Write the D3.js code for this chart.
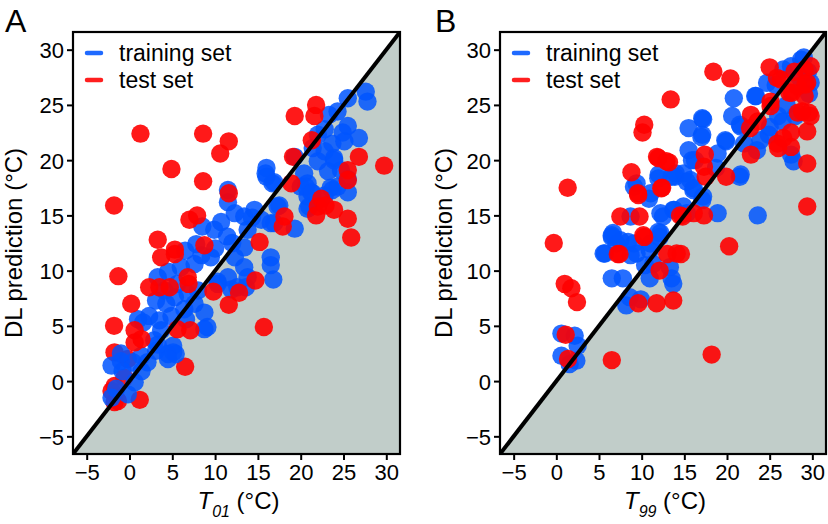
<!DOCTYPE html>
<html><head><meta charset="utf-8">
<script src="https://cdn.jsdelivr.net/npm/d3@7/dist/d3.min.js"></script>
<style>body{margin:0;background:#fff}svg{display:block;font-family:"Liberation Sans",Arial,sans-serif}</style>
</head><body><svg id="c" width="828" height="524"></svg>
<script>
const ticks = [-5, 0, 5, 10, 15, 20, 25, 30];
const domain = [-6.6, 31.6];
const seriesNames = ["training set", "test set"];
const panelLetters = ["A", "B"];
const xSubs = ["01", "99"];

const trainA = [[25.5,25.6],[27.6,26.2],[27.8,25.3],[24.3,24.4],[23.3,24.1],[25.5,23.1],[24.9,22.5],[26.8,22.0],[22.8,22.8],[22.0,22.3],[23.7,21.5],[25.1,21.7],[21.4,21.1],[22.8,20.8],[22.0,19.9],[23.9,20.2],[24.7,19.1],[23.2,19.0],[20.4,18.8],[20.8,17.9],[20.0,17.6],[21.2,17.1],[23.5,17.5],[25.5,17.1],[24.3,17.6],[16.0,19.3],[16.0,18.5],[16.7,17.9],[19.3,20.3],[20.8,16.7],[22.8,16.8],[14.6,15.5],[13.4,14.9],[15.4,14.6],[16.9,14.3],[17.5,15.9],[19.3,13.8],[20.8,15.6],[13.8,13.7],[13.4,12.1],[16.5,11.2],[25.5,18.3],[23.9,20.0],[21.0,15.8],[12.3,15.2],[10.7,14.4],[9.9,13.7],[11.4,13.1],[11.5,17.3],[11.5,16.2],[16.5,10.5],[16.8,9.2],[-2.1,-1.5],[-1.55,-0.7],[-0.2,-1.2],[-2.1,1.4],[-1.0,1.8],[0.4,1.7],[1.4,2.3],[-1.0,2.5],[2.1,1.7],[3.1,2.75],[2.9,3.7],[4.5,2.45],[5.1,3.2],[5.4,2.45],[3.7,4.6],[1.6,5.3],[1.0,5.6],[2.3,5.9],[3.5,5.5],[4.9,5.9],[6.4,6.5],[7.6,7.0],[8.75,6.2],[9.1,4.9],[6.6,5.6],[4.3,7.0],[3.1,7.3],[5.3,7.6],[6.8,7.9],[8.0,8.2],[4.1,8.2],[3.3,9.4],[4.5,9.9],[6.0,10.3],[7.6,10.6],[8.4,11.4],[9.5,11.2],[10.3,9.0],[11.5,9.4],[12.6,8.5],[13.8,9.4],[13.4,10.3],[12.3,11.2],[5.6,8.8],[0.6,-0.1],[1.4,0.9],[-0.8,0.9],[10.3,8.8],[11.9,8.3],[13.6,8.5],[8.75,4.7],[5.1,2.6],[4.5,2.0],[3.3,3.3],[7.8,12.4],[10.0,12.0],[12.0,12.5],[8.5,14.0],[6.5,11.8],[14.3,14.8],[17.3,15.8],[16.5,14.3],[16.9,18.0],[15.9,18.8],[20.6,17.6],[21.4,17.0],[23.7,17.3]];
const testA = [[1.28,22.4],[8.6,22.4],[11.6,21.7],[10.6,20.6],[4.9,19.2],[8.6,18.1],[11.6,17.0],[-1.8,15.9],[7.9,15.0],[7.0,14.6],[3.3,12.8],[5.3,11.9],[3.7,11.2],[8.75,12.3],[19.3,24.0],[21.8,25.0],[21.6,24.0],[19.1,20.3],[21.3,21.8],[29.75,19.5],[26.8,20.3],[25.5,19.1],[25.5,18.2],[18.9,17.9],[22.0,15.8],[21.8,15.0],[23.9,15.5],[25.5,14.7],[25.9,13.0],[18.1,14.9],[17.9,14.0],[15.2,12.6],[22.4,16.5],[22.9,15.9],[-1.3,9.5],[0.2,7.0],[-1.8,5.0],[-1.75,2.6],[15.7,4.9],[6.5,1.3],[1.2,-1.7],[5.3,11.5],[2.3,8.5],[3.5,8.5],[4.7,8.5],[6.8,9.4],[6.9,8.8],[11.6,6.9],[14.7,9.1],[9.8,8.1],[12.8,8.0],[5.6,4.7],[7.1,4.6],[0.6,4.6],[1.4,3.8],[-0.2,2.0],[-0.6,0.3],[-2.1,-0.9],[-1.35,-1.8],[0.6,3.5],[-1.75,-0.45],[-1.75,-1.9]];
const trainB = [[28.7,29.1],[27.5,28.5],[25.7,26.8],[23.4,25.8],[20.8,25.6],[20.6,24.0],[21.6,23.05],[19.9,21.7],[21.6,18.7],[23.6,15.0],[17.1,23.8],[17.1,22.3],[15.5,22.9],[15.5,20.9],[15.9,20.0],[18.9,20.6],[18.7,19.3],[15.3,18.05],[16.1,17.45],[17.1,16.4],[14.0,18.8],[12.0,18.7],[11.05,17.0],[9.1,17.6],[10.85,16.5],[12.2,15.2],[13.8,15.5],[15.3,15.2],[18.9,15.2],[8.7,14.9],[6.5,13.2],[7.5,12.75],[9.1,12.45],[12.2,13.4],[11.05,12.45],[5.55,11.55],[8.7,11.4],[29.0,29.3],[29.8,27.0],[26.0,24.0],[23.9,21.8],[24.9,22.3],[23.5,20.9],[27.8,19.9],[21.5,18.5],[14.9,18.8],[13.9,18.5],[15.7,18.2],[16.05,17.3],[17.2,16.7],[14.9,15.8],[13.7,15.5],[24.7,27.0],[26.6,28.2],[23.3,25.8],[21.5,23.2],[19.8,21.8],[17.0,22.1],[17.2,23.7],[16.25,20.0],[0.6,4.3],[2.15,4.1],[2.5,3.2],[0.6,2.3],[2.35,1.85],[1.56,1.55],[5.7,11.55],[7.05,12.45],[6.5,13.05],[6.5,9.3],[7.8,9.3],[8.6,7.6],[8.2,6.85],[10.95,9.3],[10.4,10.5],[11.35,10.6],[13.5,9.3],[13.3,10.3],[9.4,11.55],[10.95,11.85],[8.4,12.6],[12.1,13.05],[13.7,8.8],[9.9,7.4],[11.95,18.35],[9.4,17.9],[13.5,18.5],[12.5,14.9],[6.65,13.4],[11.95,13.5],[27.0,25.0],[28.0,24.0],[26.5,23.5],[28.5,27.5],[29.5,28.0],[25.0,23.0],[27.5,20.5],[22.0,21.5],[29.6,26.0]];
const testB = [[1.33,17.5],[-0.3,12.5],[8.8,18.9],[10.3,23.2],[10.1,22.5],[11.8,20.3],[13.2,19.8],[12.4,17.5],[9.55,17.0],[7.5,14.9],[9.75,14.9],[10.2,13.2],[7.2,11.5],[13.0,11.5],[14.6,11.5],[13.4,25.5],[18.4,28.0],[20.4,27.4],[17.4,20.5],[17.3,19.4],[17.5,18.5],[19.9,18.5],[17.3,15.0],[16.1,15.2],[14.8,14.9],[20.25,12.2],[29.4,15.8],[29.4,19.7],[22.8,20.5],[22.8,24.1],[23.6,23.5],[25.0,28.4],[25.1,25.3],[25.9,21.5],[27.5,21.2],[27.5,22.5],[29.4,22.6],[29.6,24.3],[28.3,24.3],[29.1,25.8],[27.3,26.1],[26.3,27.3],[27.9,28.0],[29.1,28.2],[29.4,27.0],[29.8,28.5],[28.3,26.7],[25.85,27.45],[29.2,26.85],[27.6,26.1],[25.1,24.9],[29.8,24.0],[22.7,22.9],[26.6,22.0],[26.0,21.1],[28.8,24.4],[14.5,15.0],[0.98,8.8],[1.76,8.4],[2.42,7.15],[1.1,4.2],[1.37,2.0],[6.5,1.9],[7.4,11.5],[10.3,13.05],[9.6,7.05],[11.75,7.05],[13.7,7.3],[12.1,10.0],[18.2,2.4],[14.1,11.55],[11.95,20.2],[12.9,19.9],[9.6,16.85],[12.3,17.45]];

const colors = ["#0055ff", "#ff0000"];
const opac = [0.85, 0.9];
const svg = d3.select("#c");
const panels = [
  {left: 73, right: 400, train: trainA, test: testA, letter: panelLetters[0], sub: xSubs[0], lx: 5, ylabX: 22, underY: 3},
  {left: 500, right: 826, train: trainB, test: testB, letter: panelLetters[1], sub: xSubs[1], lx: 435, ylabX: 452, underY: -99}
];
const plotTop = 32, plotBottom = 454;

panels.forEach((p, i) => {
  const x = d3.scaleLinear().domain(domain).range([p.left, p.right]);
  const y = d3.scaleLinear().domain(domain).range([plotBottom, plotTop]);
  const g = svg.append("g");
  const cid = "clip" + i;
  svg.append("clipPath").attr("id", cid).append("rect")
    .attr("x", p.left).attr("y", plotTop).attr("width", p.right - p.left).attr("height", plotBottom - plotTop);
  g.append("path")
    .attr("d", d3.line()([[x(domain[0]), y(domain[0])], [x(domain[1]), y(domain[0])], [x(domain[1]), y(domain[1])]]) + "Z")
    .attr("fill", "#c1cdc9");
  const pts = g.append("g").attr("clip-path", `url(#${cid})`);
  const layers = [
    [p.test.filter(d => d[1] < p.underY), 1],
    [p.train, 0],
    [p.test.filter(d => d[1] >= p.underY), 1]
  ];
  layers.forEach(([data, k]) => {
    pts.append("g").selectAll("circle").data(data).join("circle")
      .attr("cx", d => x(d[0])).attr("cy", d => y(d[1])).attr("r", 9.2)
      .attr("fill", colors[k]).attr("fill-opacity", opac[k]);
  });
  g.append("line")
    .attr("x1", x(domain[0])).attr("y1", y(domain[0])).attr("x2", x(domain[1])).attr("y2", y(domain[1]))
    .attr("stroke", "#000").attr("stroke-width", 4).attr("clip-path", `url(#${cid})`);
  const xa = g.append("g").attr("transform", `translate(0,${plotBottom})`)
    .call(d3.axisBottom(x).tickValues(ticks).tickSize(6).tickPadding(4).tickFormat(d3.format("d")));
  const ya = g.append("g").attr("transform", `translate(${p.left},0)`)
    .call(d3.axisLeft(y).tickValues(ticks).tickSize(6).tickPadding(3).tickFormat(d3.format("d")));
  [xa, ya].forEach(a => {
    a.select(".domain").remove();
    a.selectAll(".tick line").attr("stroke", "#000").attr("stroke-width", 2);
    a.selectAll(".tick text").attr("font-size", 22).attr("fill", "#000").attr("font-family", "Liberation Sans, Arial, sans-serif");
  });
  ya.selectAll(".tick text").attr("dy", "0.36em");
  g.append("rect").attr("x", p.left).attr("y", plotTop).attr("width", p.right - p.left).attr("height", plotBottom - plotTop)
    .attr("fill", "none").attr("stroke", "#000").attr("stroke-width", 2.2);
  seriesNames.forEach((name, k) => {
    const ly = 53 + k * 27;
    g.append("line").attr("x1", p.left + 14).attr("x2", p.left + 28).attr("y1", ly).attr("y2", ly)
      .attr("stroke", colors[k]).attr("stroke-opacity", 0.88).attr("stroke-width", 4.5).attr("stroke-linecap", "round");
    g.append("text").attr("x", p.left + 46).attr("y", ly + 8).attr("font-size", 23).text(name);
  });
  const xl = g.append("text").attr("x", (p.left + p.right) / 2 + 2).attr("y", 509)
    .attr("text-anchor", "middle").attr("font-size", 24);
  xl.append("tspan").attr("font-style", "italic").text("T");
  xl.append("tspan").attr("font-style", "italic").attr("font-size", 16).attr("dy", 8).text(p.sub);
  xl.append("tspan").attr("dy", -8).text(" (°C)");
  g.append("text").attr("transform", `translate(${p.ylabX},${(plotTop + plotBottom) / 2}) rotate(-90)`)
    .attr("text-anchor", "middle").attr("font-size", 24).text("DL prediction (°C)");
  g.append("text").attr("x", p.lx).attr("y", 31.5).attr("font-size", 32).text(p.letter);
});
</script></body></html>
